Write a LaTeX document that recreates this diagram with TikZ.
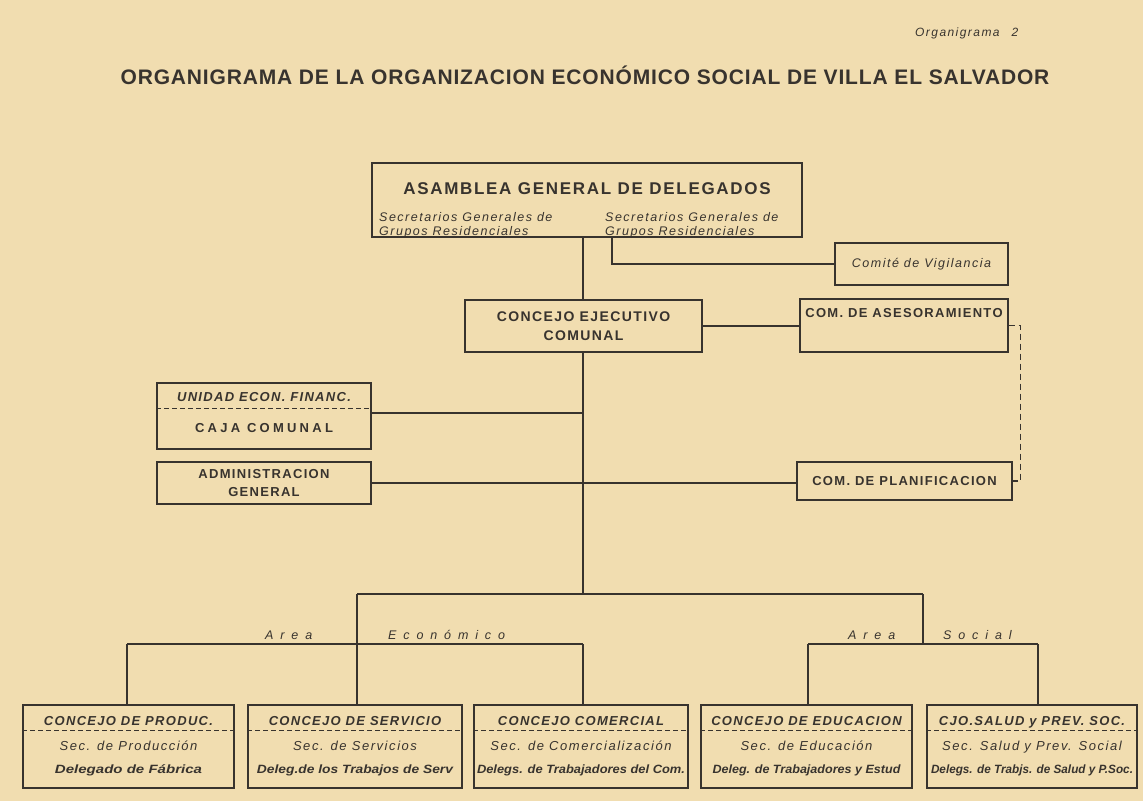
\documentclass[tikz,border=0pt]{standalone}
\usepackage{fontspec}
\usepackage{graphicx}
\setmainfont{Liberation Sans}
\newfontfamily\titlefont[LetterSpace=4]{Liberation Sans}
\newfontfamily\tracked[LetterSpace=10]{Liberation Sans}
\newfontfamily\loose[LetterSpace=12]{Liberation Sans}
\newfontfamily\cajafont[LetterSpace=25]{Liberation Sans}
\newfontfamily\airy[LetterSpace=55]{Liberation Sans}
\newcommand{\fitw}[2]{\resizebox{#1}{\height}{#2}}
\definecolor{paper}{HTML}{F1DDB0}
\definecolor{ink}{HTML}{38332E}
\tikzset{
  orgbox/.style={draw=ink, line width=1.4pt, text=ink, align=center, inner sep=0pt},
  link/.style={draw=ink, line width=1.1pt},
  sep/.style={link, dash pattern=on 5pt off 3pt},
  capsb/.style={text=ink, font=\tracked\bfseries\fontsize{13}{18}\selectfont, align=center, inner sep=0pt},
  subtxt/.style={text=ink, font=\loose\itshape\fontsize{12.5}{14}\selectfont, inner sep=0pt},
  hdrtxt/.style={text=ink, font=\tracked\bfseries\itshape\fontsize{13}{15}\selectfont, inner sep=0pt, anchor=base},
  sectxt/.style={text=ink, font=\loose\itshape\fontsize{13}{15}\selectfont, inner sep=0pt, anchor=base},
  delegtxt/.style={text=ink, font=\bfseries\itshape\fontsize{12}{14}\selectfont, inner sep=0pt, anchor=base},
  arealbl/.style={text=ink, font=\airy\itshape\fontsize{12.5}{14}\selectfont, inner sep=0pt}
}
\begin{document}
\begin{tikzpicture}[x=1pt,y=-1pt]
  \fill[paper] (0,0) rectangle (1143,801);
  \useasboundingbox (0,0) rectangle (1143,801);

  \node[subtxt, font=\loose\itshape\fontsize{12}{14}\selectfont, anchor=base west] (pageno) at (915,36) {Organigrama\hspace{12pt}2};
  \node[text=ink, font=\titlefont\bfseries\fontsize{21}{24}\selectfont, anchor=base, inner sep=0pt] (title) at (585,84)
    {ORGANIGRAMA DE LA ORGANIZACION ECONÓMICO SOCIAL DE VILLA EL SALVADOR};

  % upper part
  \node[orgbox, minimum width=430pt, minimum height=74pt] (asam) at (587,200) {};
  \node[capsb, font=\tracked\bfseries\fontsize{17}{19}\selectfont, anchor=base] (asamt) at (587,194) {ASAMBLEA GENERAL DE DELEGADOS};
  \node[subtxt, anchor=base west] (secl) at (379,221) {Secretarios Generales de};
  \node[subtxt, anchor=base west] (grl) at (379,235) {Grupos Residenciales};
  \node[subtxt, anchor=base west] (secr) at (605,221) {Secretarios Generales de};
  \node[subtxt, anchor=base west] (grr) at (605,235) {Grupos Residenciales};

  \node[orgbox, subtxt, draw=ink, line width=1.4pt, minimum width=173pt, minimum height=42pt] (comite) at (921.5,264) {Comité de Vigilancia};
  \node[orgbox, capsb, draw=ink, line width=1.4pt, font=\tracked\bfseries\fontsize{14}{19}\selectfont,
    minimum width=237pt, minimum height=52pt] (cec) at (583.5,326) {CONCEJO EJECUTIVO\\COMUNAL};
  \node[orgbox, minimum width=208pt, minimum height=53pt] (aseso) at (904,325.5) {};
  \node[capsb, anchor=base] (asesot) at ([yshift=-19.5pt]aseso.north) {COM. DE ASESORAMIENTO};

  \node[orgbox, minimum width=214pt, minimum height=66pt] (unid) at (264,416) {};
  \node[capsb, font=\tracked\bfseries\itshape\fontsize{13}{18}\selectfont, anchor=base] (unidt) at ([yshift=-19.5pt]unid.north) {UNIDAD ECON. FINANC.};
  \draw[sep] ([yshift=-26pt]unid.north west) -- ([yshift=-26pt]unid.north east);
  \node[capsb, font=\cajafont\bfseries\fontsize{13}{18}\selectfont, anchor=base] (caja) at ([yshift=-50.5pt]unid.north) {CAJA COMUNAL};
  \node[orgbox, capsb, draw=ink, line width=1.4pt, minimum width=214pt, minimum height=42pt] (admin) at (264,483) {ADMINISTRACION\\GENERAL};
  \node[orgbox, capsb, draw=ink, line width=1.4pt, minimum width=215pt, minimum height=38pt] (planif) at (904.5,481) {COM. DE PLANIFICACION};

  % lower boxes
  \node[orgbox, minimum width=211pt, minimum height=83pt] (prod) at (128.5,746.5) {};
  \node[orgbox, minimum width=214pt, minimum height=83pt] (serv) at (355,746.5) {};
  \node[orgbox, minimum width=214pt, minimum height=83pt] (comer) at (581,746.5) {};
  \node[orgbox, minimum width=211pt, minimum height=83pt] (educ) at (806.5,746.5) {};
  \node[orgbox, minimum width=210pt, minimum height=83pt] (salud) at (1032,746.5) {};
  \draw[sep] ([yshift=-26pt]prod.north west) -- ([yshift=-26pt]prod.north east);
  \draw[sep] ([yshift=-26pt]serv.north west) -- ([yshift=-26pt]serv.north east);
  \draw[sep] ([yshift=-26pt]comer.north west) -- ([yshift=-26pt]comer.north east);
  \draw[sep] ([yshift=-26pt]educ.north west) -- ([yshift=-26pt]educ.north east);
  \draw[sep] ([yshift=-26pt]salud.north west) -- ([yshift=-26pt]salud.north east);

  \node[hdrtxt] (hprod) at ([yshift=-21.5pt]prod.north) {CONCEJO DE PRODUC.};
  \node[hdrtxt] (hserv) at ([yshift=-21.5pt]serv.north) {CONCEJO DE SERVICIO};
  \node[hdrtxt] (hcomer) at ([yshift=-21.5pt]comer.north) {CONCEJO COMERCIAL};
  \node[hdrtxt] (heduc) at ([yshift=-21.5pt]educ.north) {CONCEJO DE EDUCACION};
  \node[hdrtxt] (hsalud) at ([yshift=-21.5pt]salud.north) {CJO.SALUD y PREV. SOC.};

  \node[sectxt] (sprod) at ([yshift=-46.5pt]prod.north) {Sec. de Producción};
  \node[sectxt] (sserv) at ([yshift=-46.5pt]serv.north) {Sec. de Servicios};
  \node[sectxt] (scomer) at ([yshift=-46.5pt]comer.north) {Sec. de Comercialización};
  \node[sectxt] (seduc) at ([yshift=-46.5pt]educ.north) {Sec. de Educación};
  \node[sectxt] (ssalud) at ([yshift=-46.5pt]salud.north) {Sec. Salud y Prev. Social};

  \node[delegtxt] (dprod) at ([yshift=-69.5pt]prod.north) {\fitw{147pt}{Delegado de Fábrica}};
  \node[delegtxt] (dserv) at ([yshift=-69.5pt]serv.north) {\fitw{196pt}{Deleg.de los Trabajos de Serv}};
  \node[delegtxt] (dcomer) at ([yshift=-69.5pt]comer.north) {\fitw{208pt}{Delegs. de Trabajadores del Com.}};
  \node[delegtxt] (deduc) at ([yshift=-69.5pt]educ.north) {\fitw{188pt}{Deleg. de Trabajadores y Estud}};
  \node[delegtxt] (dsalud) at ([yshift=-69.5pt]salud.north) {\fitw{202pt}{Delegs. de Trabjs. de Salud y P.Soc.}};

  % junctions
  \coordinate (vig) at (612,263);
  \coordinate (fork) at (583,594);
  \coordinate (econ) at (357,594);
  \coordinate (soc) at (923,594);
  \coordinate (ecol) at (127,644);
  \coordinate (ecor) at (583,644);
  \coordinate (socl) at (808,644);
  \coordinate (socr) at (1038,644);

  \draw[link] (asam.south -| fork) -- (cec.north -| fork);
  \draw[link] (asam.south -| vig) |- (comite.west);
  \draw[link] (cec.east) -- (cec.east -| aseso.west);
  \draw[link, dash pattern=on 6pt off 4pt] (aseso.east) -- ++(12,0) |- (planif.east);
  \draw[link] (cec.south -| fork) -- (fork);
  \draw[link] ([yshift=3pt]unid.east) -- ([yshift=3pt]unid.east -| fork);
  \draw[link] (admin.east) -- (admin.east -| planif.west);
  \draw[link] (econ) -- (soc);
  \draw[link] (econ) -- (econ |- serv.north);
  \draw[link] (soc) -- (soc |- socl);
  \draw[link] (ecol) -- (ecor);
  \draw[link] (socl) -- (socr);
  \draw[link] (ecol) -- (ecol |- prod.north);
  \draw[link] (ecor) -- (ecor |- comer.north);
  \draw[link] (socl) -- (socl |- educ.north);
  \draw[link] (socr) -- (socr |- salud.north);

  \node[arealbl, anchor=base west] (areaeco) at (265,639) {Area};
  \node[arealbl, anchor=base west] (ecolbl) at (388,639) {Económico};
  \node[arealbl, anchor=base west] (areasoc) at (848,639) {Area};
  \node[arealbl, anchor=base west] (soclbl) at (943,639) {Social};
\end{tikzpicture}
\end{document}
